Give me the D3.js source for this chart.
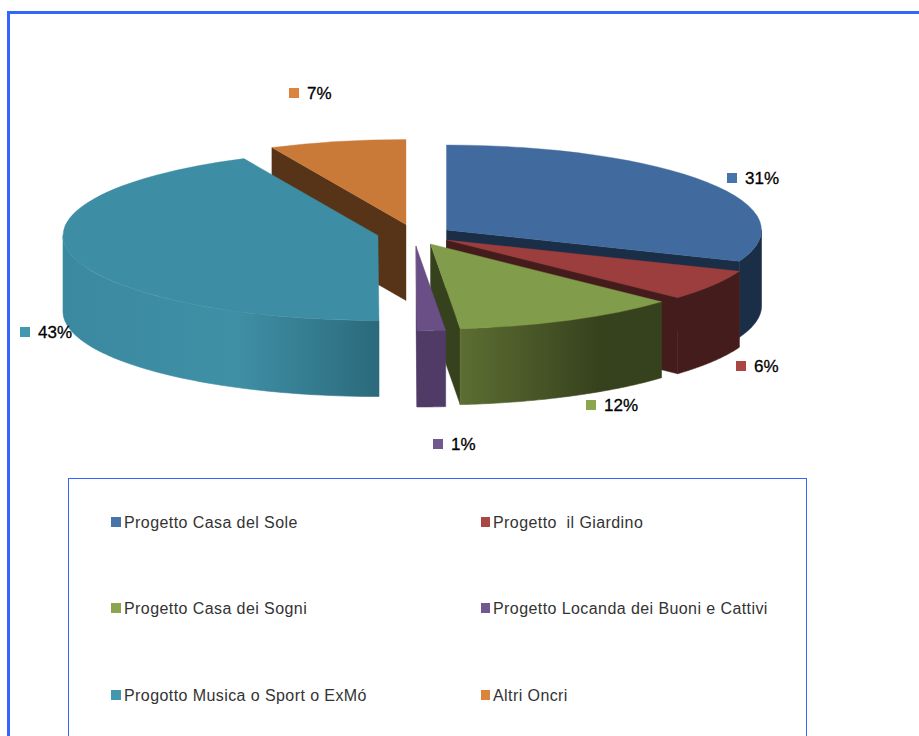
<!DOCTYPE html>
<html><head><meta charset="utf-8">
<style>html,body{margin:0;padding:0;background:#fff;overflow:hidden}svg{display:block}</style>
<script src="https://cdn.jsdelivr.net/npm/d3@7"></script>
</head><body>
<svg id="c" width="919" height="736"></svg>
<script>
const categories = ["Progetto Casa del Sole","Progetto  il Giardino","Progetto Casa dei Sogni","Progetto Locanda dei Buoni e Cattivi","Progotto Musica o Sport o ExMó","Altri Oncri"];
const values = [31, 5.9, 11.6, 1.45, 43.05, 7];
const percentLabels = ["31%","6%","12%","1%","43%","7%"];
const markerColors = ["#4674aa","#aa4644","#8aa64e","#71588f","#4198af","#db843d"];
const topColors = ["#416b9e","#9c3e3e","#819c4a","#694f86","#3d8da4","#c97a38"];
const wallColors = [["#1b2e47","#1b2e47"],["#451c1c","#451c1c"],["#5c6e32","#36411d"],["#4f3b65","#4f3b65"],["#3c8ca3","#2b6a7c"],["#573317","#573317"]];
const faceColors = ["#1b2e47","#451c1c","#36411d","#4f3b65","#2b6a7c","#573317"];
// layout
const RX = 315, RY = 85, DEPTH = 76;
const apexes = [[446.5,230],[446.5,240],[430.5,244],[416,246],[378,235.5],[406,224.5]];
const labelPos = [[727,178],[736,366],[586,405],[433,444],[20,332],[289,93]];
const drawOrder = [5,4,0,1,2,3];

const svg = d3.select("#c");
const defs = svg.append("defs");
const sx = d3.scaleLinear().domain([-1,1]).range([-RX,RX]);
const sy = d3.scaleLinear().domain([-1,1]).range([-RY,RY]);
const pie = d3.pie().sort(null).startAngle(0).endAngle(2*Math.PI);
const arcs = pie(values);
const px = a => sx(Math.sin(a));
const py = a => sy(-Math.cos(a));
const line = d3.line();
const arcGen = d3.arc().innerRadius(0).outerRadius(RX);

// frame (its right edge falls outside the window)
svg.append("rect").attr("x",8.5).attr("y",12.5).attr("width",940).attr("height",760)
  .attr("fill","#fff").attr("stroke","#3366ff").attr("stroke-width",3);

const chart = svg.append("g");
drawOrder.forEach(i => {
  const d = arcs[i], [cx,cy] = apexes[i];
  const g = chart.append("g").attr("transform",`translate(${cx},${cy})`);
  const a0 = d.startAngle, a1 = d.endAngle;
  const face = a => [[0,0],[px(a),py(a)],[px(a),py(a)+DEPTH],[0,DEPTH]];
  const addFace = a => g.append("path").attr("d",line(face(a))+"Z").attr("fill",faceColors[i]).attr("stroke",faceColors[i]).attr("stroke-width",0.4);
  if (a0 > Math.PI && a0 < 2*Math.PI) addFace(a0);
  if (a1 > 0 && a1 < Math.PI) addFace(a1);
  const w0 = Math.max(a0,Math.PI/2), w1 = Math.min(a1,1.5*Math.PI);
  if (w1 > w0) {
    const steps = d3.range(0,61).map(k => w0+(w1-w0)*k/60);
    const top = steps.map(a => [px(a),py(a)]);
    const bot = steps.map(a => [px(a),py(a)+DEPTH]).reverse();
    const id = "w"+i;
    const xs = top.map(p=>p[0]);
    const gr = defs.append("linearGradient").attr("id",id).attr("gradientUnits","userSpaceOnUse")
      .attr("x1",d3.min(xs)).attr("x2",d3.max(xs)).attr("y1",0).attr("y2",0);
    if (i === 4) {
      gr.append("stop").attr("offset",0).attr("stop-color","#3a89a0");
      gr.append("stop").attr("offset",0.55).attr("stop-color","#3f8fa5");
      gr.append("stop").attr("offset",1).attr("stop-color",wallColors[i][1]);
    } else if (i === 2) {
      gr.append("stop").attr("offset",0).attr("stop-color",wallColors[i][0]);
      gr.append("stop").attr("offset",0.7).attr("stop-color",wallColors[i][1]);
      gr.append("stop").attr("offset",1).attr("stop-color",wallColors[i][1]);
    } else {
      gr.append("stop").attr("offset",0).attr("stop-color",wallColors[i][0]);
      gr.append("stop").attr("offset",1).attr("stop-color",wallColors[i][1]);
    }
    g.append("path").attr("d",line(top.concat(bot))+"Z").attr("fill",`url(#${id})`).attr("stroke",`url(#${id})`).attr("stroke-width",0.6);
  }
  g.append("path").attr("d",arcGen(d)).attr("transform",`scale(1,${RY/RX})`).attr("fill",topColors[i]).attr("stroke",topColors[i]).attr("stroke-width",0.6);
});

// percent labels
const lab = svg.append("g").selectAll("g").data(percentLabels).join("g")
  .attr("transform",(d,i)=>`translate(${labelPos[i][0]},${labelPos[i][1]})`);
lab.append("rect").attr("x",0).attr("y",-5).attr("width",10).attr("height",10).attr("fill",(d,i)=>markerColors[i]);
lab.append("text").attr("x",18).attr("y",6).text(d=>d)
  .attr("font-family","Liberation Sans").attr("font-size",17).attr("fill","#000")
  .attr("stroke","#000").attr("stroke-width",0.3);

// legend
svg.append("rect").attr("x",68.5).attr("y",478.5).attr("width",738).attr("height",300)
  .attr("fill","none").attr("stroke","#3366ff").attr("stroke-width",1);
const colX = d3.scaleOrdinal().domain([0,1]).range([111,481]);
const rowY = d3.scaleOrdinal().domain([0,1,2]).range([522,608,695]);
const leg = svg.append("g").selectAll("g").data(categories).join("g")
  .attr("transform",(d,i)=>`translate(${colX(i%2)},${rowY(Math.floor(i/2))})`);
leg.append("rect").attr("x",0).attr("y",-5).attr("width",(d,i)=>i%2?9:10).attr("height",10).attr("fill",(d,i)=>markerColors[i]);
leg.append("text").attr("x",(d,i)=>i%2?12:13).attr("y",6).text(d=>d)
  .attr("font-family","Liberation Sans").attr("font-size",16).attr("fill","#333")
  .style("letter-spacing","0.42px").style("white-space","pre");
</script>
</body></html>
